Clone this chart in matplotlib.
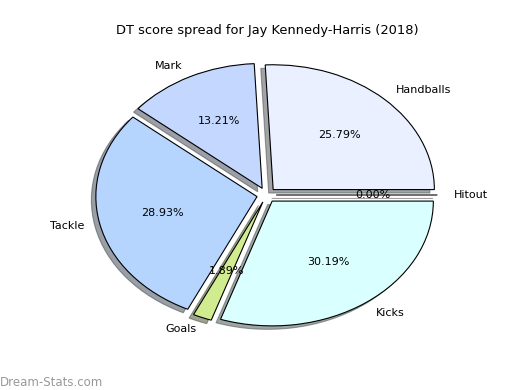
import matplotlib
matplotlib.use("Agg")
import matplotlib.pyplot as plt

labels = ["Hitout", "Handballs", "Mark", "Tackle", "Goals", "Kicks"]
values = [0, 41, 21, 46, 3, 48]
colors = ["#e0e0e0", "#eaf0ff", "#c4d7ff", "#b5d5ff", "#d0ec8e", "#d9ffff"]
explode = [0.06] * len(values)
title = "DT score spread for Jay Kennedy-Harris (2018)"

fig = plt.figure(figsize=(5.2, 3.9), dpi=100)
ax = fig.add_axes([0.125, 0.10, 0.775, 0.80])
ax.pie(values, labels=labels, colors=colors, explode=explode, autopct="%1.2f%%",
       shadow=True, startangle=0, wedgeprops=dict(edgecolor="black", linewidth=0.8),
       textprops=dict(fontsize=8))
ax.set_aspect("auto")
fig.text(0.514, 0.923, title, fontsize=9.4, ha="center", va="center")
fig.text(0.0, 0.01, "Dream-Stats.com", fontsize=8.5, color="#999999")
fig.savefig("out.png", dpi=100)
